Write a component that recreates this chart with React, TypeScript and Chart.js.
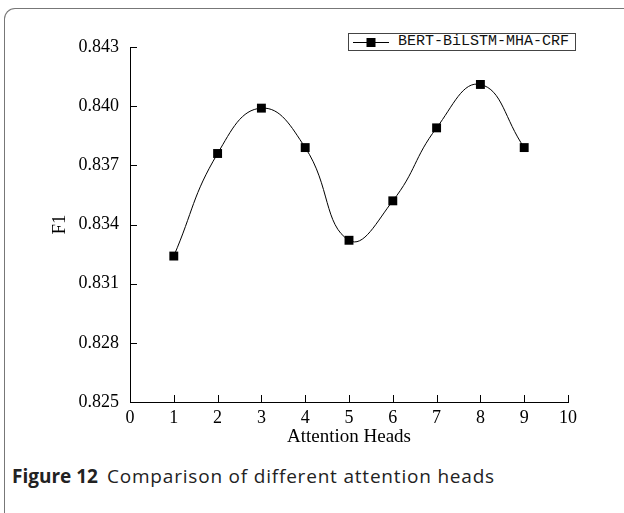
import React, { useEffect, useRef } from "react";
import { Chart, registerables } from "chart.js";

Chart.register(...registerables);

const heads = [1, 2, 3, 4, 5, 6, 7, 8, 9];
const f1Values = [0.8324, 0.8376, 0.8399, 0.8379, 0.8332, 0.8352, 0.8389, 0.8411, 0.8379];
const xTickValues = [0, 1, 2, 3, 4, 5, 6, 7, 8, 9, 10];
const yTickValues = [0.825, 0.828, 0.831, 0.834, 0.837, 0.84, 0.843];
const seriesName = "BERT-BiLSTM-MHA-CRF";
const xTitle = "Attention Heads";
const yTitle = "F1";

const SERIF = "'Liberation Serif', 'Times New Roman', serif";

const inwardTicks = {
  id: "inwardTicks",
  afterDraw(chart: any) {
    const ctx = chart.ctx;
    const xs = chart.scales.x;
    const ys = chart.scales.y;
    ctx.save();
    ctx.strokeStyle = "#000";
    ctx.lineWidth = 1;
    ctx.beginPath();
    xs.ticks.forEach((t: any) => {
      const px = Math.round(xs.getPixelForValue(t.value)) + 0.5;
      ctx.moveTo(px, xs.top);
      ctx.lineTo(px, xs.top - 7);
    });
    ys.ticks.forEach((t: any) => {
      const py = Math.round(ys.getPixelForValue(t.value)) + 0.5;
      ctx.moveTo(ys.right, py);
      ctx.lineTo(ys.right + 7, py);
    });
    ctx.stroke();
    ctx.restore();
  },
};

function ChartCanvas() {
  const ref = useRef<HTMLCanvasElement | null>(null);
  useEffect(() => {
    if (!ref.current) return;
    const chart = new Chart(ref.current, {
      type: "line",
      data: {
        datasets: [
          {
            label: seriesName,
            data: heads.map((h, i) => ({ x: h, y: f1Values[i] })),
            borderColor: "#000",
            backgroundColor: "#000",
            borderWidth: 1,
            pointStyle: "rect",
            pointRadius: 6.3,
            pointHoverRadius: 6.3,
            pointBackgroundColor: "#000",
            pointBorderColor: "#000",
            pointBorderWidth: 0,
            tension: 0.45,
            fill: false,
          },
        ],
      },
      options: {
        responsive: false,
        animation: false,
        events: [],
        layout: { padding: { left: 0, top: 47, right: 56, bottom: 0 } },
        plugins: {
          legend: { display: false },
          tooltip: { enabled: false },
        },
        scales: {
          x: {
            type: "linear",
            min: 0,
            max: 10,
            afterBuildTicks: (scale: any) => {
              scale.ticks = xTickValues.map((v) => ({ value: v }));
            },
            afterFit: (scale: any) => {
              scale.height = 58;
            },
            grid: { display: false, drawTicks: false },
            border: { display: true, color: "#000", width: 1 },
            ticks: {
              color: "#000",
              font: { family: SERIF, size: 18 },
              padding: 5,
              autoSkip: false,
              maxRotation: 0,
              callback: (v: any) => String(v),
            },
            title: {
              display: true,
              text: xTitle,
              color: "#000",
              font: { family: SERIF, size: 19 },
              padding: { top: 12, bottom: 12 },
            },
          },
          y: {
            type: "linear",
            min: 0.825,
            max: 0.843,
            afterBuildTicks: (scale: any) => {
              scale.ticks = yTickValues.map((v) => ({ value: v }));
            },
            afterFit: (scale: any) => {
              scale.width = 130;
            },
            grid: { display: false, drawTicks: false },
            border: { display: true, color: "#000", width: 1 },
            ticks: {
              color: "#000",
              font: { family: SERIF, size: 18 },
              padding: 11,
              callback: (v: any) => Number(v).toFixed(3),
            },
            title: {
              display: true,
              text: yTitle,
              color: "#000",
              font: { family: SERIF, size: 19 },
              padding: { top: 49, bottom: 49 },
            },
          },
        },
      },
      plugins: [inwardTicks],
    });
    return () => chart.destroy();
  }, []);
  return (
    <canvas
      ref={ref}
      width={624}
      height={460}
      style={{ position: "absolute", left: 0, top: 0, width: 624, height: 460 }}
    />
  );
}

export default function App() {
  return (
    <div
      style={{
        position: "absolute",
        left: 0,
        top: 0,
        width: 624,
        height: 513,
        background: "#fff",
        overflow: "hidden",
      }}
    >
      <div
        style={{
          position: "absolute",
          left: 4,
          top: 8,
          width: 700,
          height: 600,
          borderTop: "1.5px solid #777",
          borderLeft: "1.5px solid #777",
          borderTopLeftRadius: 11,
        }}
      />
      <ChartCanvas />
      <div
        style={{
          position: "absolute",
          left: 348,
          top: 33,
          width: 228,
          height: 18,
          border: "1px solid #444",
          boxSizing: "border-box",
          background: "#fff",
        }}
      >
        <svg width={46} height={16} style={{ position: "absolute", left: 0, top: 0 }}>
          <line x1={4} y1={8.5} x2={40} y2={8.5} stroke="#000" strokeWidth={1} />
          <rect x={17.5} y={4} width={9} height={9} fill="#000" />
        </svg>
        <span
          style={{
            position: "absolute",
            left: 49,
            top: -1,
            fontFamily: "'Liberation Mono', 'DejaVu Sans Mono', monospace",
            fontSize: 15,
            lineHeight: "18px",
            color: "#111",
            whiteSpace: "nowrap",
          }}
        >
          {seriesName}
        </span>
      </div>
      <div
        style={{
          position: "absolute",
          left: 12,
          top: 464,
          fontFamily: "'Open Sans', 'Noto Sans', sans-serif",
          fontSize: 19,
          lineHeight: "24px",
          color: "#222",
          whiteSpace: "nowrap",
        }}
      >
        <span style={{ fontWeight: 700 }}>Figure 12</span>
        <span style={{ marginLeft: 9, letterSpacing: 0.8 }}>
          Comparison of different attention heads
        </span>
      </div>
    </div>
  );
}
